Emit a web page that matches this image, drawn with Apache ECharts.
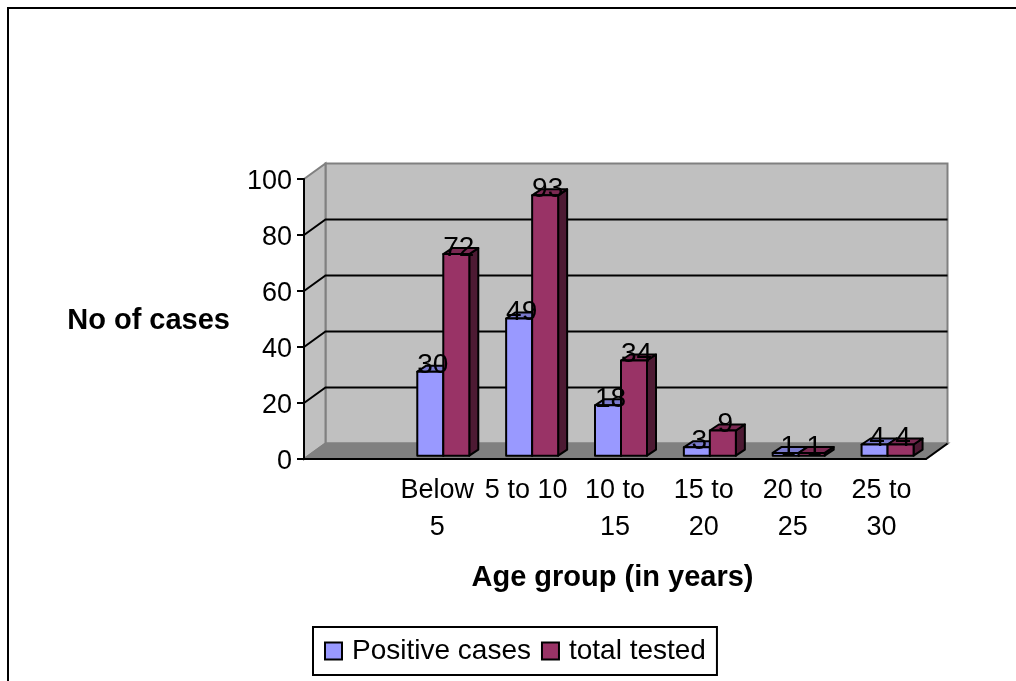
<!DOCTYPE html>
<html>
<head>
<meta charset="utf-8">
<title>Cases by age group</title>
<script src="https://cdn.jsdelivr.net/npm/echarts@6/dist/echarts.min.js"></script>
<style>
  html, body { margin: 0; padding: 0; background: #fff; }
  #chart { width: 1016px; height: 681px; }
</style>
</head>
<body>
<div id="chart"></div>
<script>
const categories = ['', 'Below\n5', '5 to 10', '10 to\n15', '15 to\n20', '20 to\n25', '25 to\n30'];
const positiveCases = [null, 30, 49, 18, 3, 1, 4];
const totalTested = [null, 72, 93, 34, 9, 1, 4];
const wallLines = [20, 40, 60, 80];

const FONT = '"Liberation Sans", Arial, sans-serif';
// fake 3D offsets, in pixels
const WALL_DX = 21.5, WALL_DY = 15.5;
const BAR_W = 26, BAR_LIFT = 3.3, BAR_DX = 9, BAR_DY = 6, GROUP_SHIFT = 6;

const chart = echarts.init(document.getElementById('chart'));

function renderWall(params, api) {
  const c = params.coordSys;
  const l = c.x, r = c.x + c.width, t = c.y, b = c.y + c.height;
  const poly = (points, fill, stroke) => ({
    type: 'polygon',
    shape: { points },
    style: { fill, stroke, lineWidth: 2 }
  });
  return {
    type: 'group',
    children: [
      poly([[l + WALL_DX, t - WALL_DY], [r + WALL_DX, t - WALL_DY], [r + WALL_DX, b - WALL_DY], [l + WALL_DX, b - WALL_DY]], '#c0c0c0', '#808080'),
      poly([[l, t], [l + WALL_DX, t - WALL_DY], [l + WALL_DX, b - WALL_DY], [l, b]], '#c0c0c0', '#808080'),
      poly([[l, b], [l + WALL_DX, b - WALL_DY], [r + WALL_DX, b - WALL_DY], [r, b]], '#808080', '#808080'),
      {
        type: 'line',
        shape: { x1: r, y1: b, x2: r + WALL_DX, y2: b - WALL_DY },
        style: { stroke: '#000', lineWidth: 2 }
      }
    ]
  };
}

function renderWallLine(params, api) {
  const c = params.coordSys;
  const y = api.coord([0, api.value(0)])[1];
  return {
    type: 'polyline',
    shape: {
      points: [
        [c.x, y],
        [c.x + WALL_DX, y - WALL_DY],
        [c.x + c.width + WALL_DX, y - WALL_DY]
      ]
    },
    style: { fill: 'none', stroke: '#000', lineWidth: 2 }
  };
}

function makeBarRender(seriesIdx, sideColor, topColor) {
  return function (params, api) {
    const val = api.value(1);
    const center = api.coord([api.value(0), 0]);
    const top = api.coord([api.value(0), val])[1] - BAR_LIFT;
    const base = center[1] - BAR_LIFT;
    const x0 = center[0] + GROUP_SHIFT + (seriesIdx - 1) * BAR_W;
    const x1 = x0 + BAR_W;
    const face = (points, fill) => ({
      type: 'polygon',
      z2: seriesIdx,
      shape: { points },
      style: { fill, stroke: '#000', lineWidth: 2, lineJoin: 'round' }
    });
    return {
      type: 'group',
      children: [
        face([[x1, base], [x1 + BAR_DX, base - BAR_DY], [x1 + BAR_DX, top - BAR_DY], [x1, top]], sideColor),
        face([[x0, top], [x0 + BAR_DX, top - BAR_DY], [x1 + BAR_DX, top - BAR_DY], [x1, top]], topColor),
        face([[x0, base], [x1, base], [x1, top], [x0, top]], api.visual('color')),
        {
          type: 'text',
          z2: 10,
          style: {
            x: (x0 + x1) / 2 + 2.5,
            y: top - 6,
            text: String(val),
            font: '28px ' + FONT,
            fill: '#000',
            align: 'center',
            verticalAlign: 'middle'
          }
        }
      ]
    };
  };
}

function barData(values) {
  return values.map((v, i) => [i, v]).filter((d) => d[1] !== null);
}

const option = {
  animation: false,
  backgroundColor: '#fff',
  textStyle: { fontFamily: FONT, color: '#000' },
  graphic: [
    {
      // the outer frame runs off the right and bottom of the picture
      type: 'rect',
      silent: true,
      shape: { x: 8, y: 8, width: 1100, height: 800 },
      style: { fill: 'none', stroke: '#000', lineWidth: 2 }
    }
  ],
  grid: { left: 304, top: 179, width: 622, height: 280 },
  legend: {
    left: 313,
    top: 627,
    data: ['Positive cases', 'total tested'],
    icon: 'rect',
    itemWidth: 17,
    itemHeight: 17,
    itemGap: 10,
    padding: [10, 11, 10, 11],
    borderColor: '#000',
    borderWidth: 2,
    itemStyle: { borderColor: '#000', borderWidth: 2 },
    textStyle: { fontFamily: FONT, fontSize: 28, color: '#000', padding: [4, 0, 0, 5] }
  },
  xAxis: {
    type: 'category',
    data: categories,
    name: 'Age group (in years)',
    nameLocation: 'middle',
    nameGap: 104,
    nameTextStyle: { fontFamily: FONT, fontWeight: 'bold', fontSize: 29, color: '#000', padding: [0, 5, 0, 0] },
    axisLine: { lineStyle: { color: '#000', width: 2 } },
    axisTick: { length: 6, lineStyle: { color: '#000', width: 2 } },
    axisLabel: { interval: 0, margin: 13.5, fontFamily: FONT, fontSize: 27, lineHeight: 37, color: '#000', hideOverlap: false },
    splitLine: { show: false },
    z: 2
  },
  yAxis: {
    type: 'value',
    min: 0,
    max: 100,
    interval: 20,
    name: 'No of cases',
    nameLocation: 'middle',
    nameRotate: 0,
    nameGap: 74,
    // a thin line box with top alignment drops the text a few pixels below the tick
    nameTextStyle: { fontFamily: FONT, fontWeight: 'bold', fontSize: 29, color: '#000', align: 'right', verticalAlign: 'top', lineHeight: 3 },
    axisLine: { show: true, onZero: false, lineStyle: { color: '#000', width: 2 } },
    axisTick: { show: true, length: 7, lineStyle: { color: '#000', width: 2 } },
    axisLabel: { margin: 12, fontFamily: FONT, fontSize: 27, color: '#000', verticalAlign: 'top', lineHeight: 5 },
    splitLine: { show: false },
    z: 2
  },
  series: [
    {
      name: 'wall',
      type: 'custom',
      z: 1,
      silent: true,
      renderItem: renderWall,
      data: [[0]]
    },
    {
      name: 'wall lines',
      type: 'custom',
      z: 1,
      silent: true,
      renderItem: renderWallLine,
      encode: { y: 0 },
      data: wallLines.map((v) => [v])
    },
    {
      name: 'Positive cases',
      type: 'custom',
      z: 3,
      itemStyle: { color: '#9999ff' },
      renderItem: makeBarRender(0, '#4d4d80', '#7a7acc'),
      data: barData(positiveCases)
    },
    {
      name: 'total tested',
      type: 'custom',
      z: 3,
      itemStyle: { color: '#993366' },
      renderItem: makeBarRender(1, '#4d1a33', '#7a2952'),
      data: barData(totalTested)
    }
  ]
};

chart.setOption(option);
</script>
</body>
</html>
